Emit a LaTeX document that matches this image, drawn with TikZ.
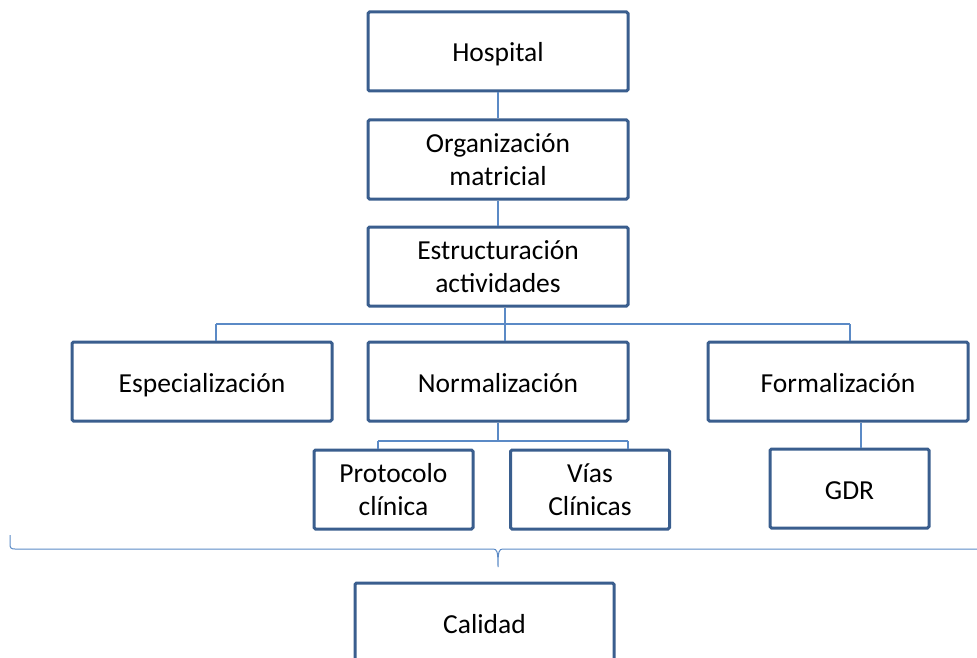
\documentclass[tikz,border=0pt]{standalone}
\usepackage{fontspec}
\setmainfont{Carlito}
\definecolor{boxline}{HTML}{3A5E8E}
\definecolor{linkline}{HTML}{5B8AC6}
\tikzset{
  orgbox/.style={draw=boxline, line width=3pt, fill=white, rounded corners=1.5pt,
    minimum width=260pt, minimum height=79pt, inner sep=0pt, align=center,
    font=\fontsize{27.5}{33.5}\selectfont},
  oneline/.style={text height=21pt, text depth=0pt},
  smallbox/.style={orgbox, minimum width=159pt},
  link/.style={draw=linkline, line width=1.1pt},
}
\begin{document}
\begin{tikzpicture}[x=1pt,y=-1pt]
\useasboundingbox (0,0) rectangle (977,658);

% boxes
\node[orgbox, oneline] (hosp) at (498,51.5) {Hospital};
\node[orgbox] (org)  at (498,159.5) {Organización\\matricial};
\node[orgbox] (estr) at (498,266.5) {Estructuración\\actividades};
\node[orgbox, oneline] (esp)  at (202,381.5) {Especialización};
\node[orgbox, oneline] (norm) at (498,381.5) {Normalización};
\node[orgbox, oneline] (form) at (838,381.5) {Formalización};
\node[smallbox] (prot) at (393.5,489.5) {Protocolo\\clínica};
\node[smallbox] (vias) at (590,489.5) {Vías\\Clínicas};
\node[smallbox, oneline] (gdr)  at (849.5,488.5) {GDR};
\node[orgbox, oneline, minimum width=259pt] (cal) at (484.5,622.5) {Calidad};

% branch points
\coordinate (bL) at (216,324);
\coordinate (bM) at (505,324);
\coordinate (bR) at (850,324);
\coordinate (cL) at (378,441);
\coordinate (cM) at (498,441);
\coordinate (cR) at (628,441);
\coordinate (gX) at (861,441);

% connectors
\path[link] (hosp.south) -- (org.north);
\path[link] (org.south) -- (estr.north);
\path[link] (estr.south -| bM) -- (norm.north -| bM);
\path[link] (bL) -- (bR);
\path[link] (bL) -- (esp.north -| bL);
\path[link] (bR) -- (form.north -| bR);
\path[link] (norm.south -| cM) -- (cM);
\path[link] (cL) -- (cR);
\path[link] (cL) -- (prot.north -| cL);
\path[link] (cR) -- (vias.north -| cR);
\path[link] (form.south -| gX) -- (gdr.north -| gX);

% brace grouping the lower boxes
\coordinate (brL) at (10,535);
\coordinate (brTip) at (498,567);
\coordinate (brR) at (990,549);
\path[link, line width=1pt] (brL) -- (10,544)
  .. controls (10,548) and (11,549) .. (15,549) -- (493,549)
  .. controls (497,549) and (498,551) .. (brTip)
  .. controls (498,551) and (499,549) .. (503,549) -- (brR);
\end{tikzpicture}
\end{document}
